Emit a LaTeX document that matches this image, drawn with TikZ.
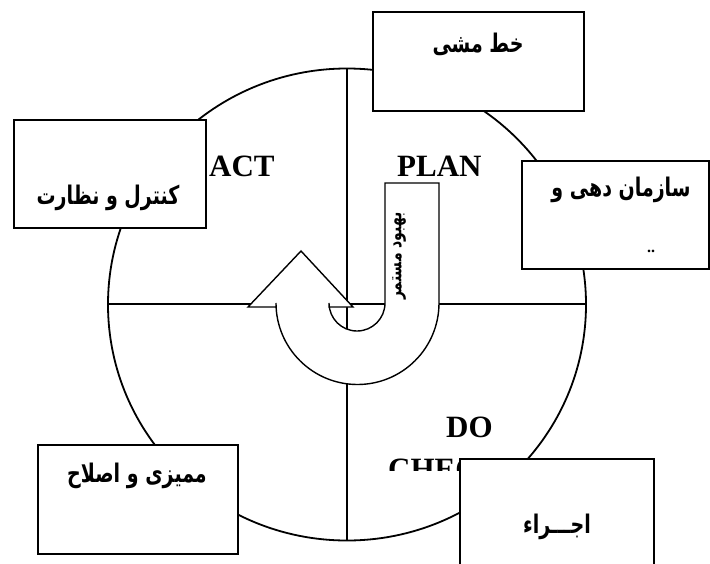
\documentclass[tikz,border=0pt]{standalone}
\usepackage{fontspec}
\setmainfont{Liberation Serif}
\newfontfamily\arabicfont[Script=Arabic]{DejaVu Sans}
\TeXXeTstate=1
\newcommand{\artxt}[1]{\scalebox{1}[1.35]{\beginR #1\endR}}
\begin{document}
\begin{tikzpicture}[x=1pt,y=-1pt,
  box/.style={draw, line width=2.2pt, fill=white, inner sep=0pt},
  lbl/.style={font=\fontsize{31}{36}\selectfont\bfseries, inner sep=0pt},
  ar/.style={font=\arabicfont\bfseries\fontsize{19}{22}\selectfont, inner sep=0pt},
  thin/.style={line width=1.8pt}]
\useasboundingbox (0,0) rectangle (710,563);
% circle and quadrant lines
\draw[thin, fill=white] (347,304.5) ellipse [x radius=239, y radius=236];
\coordinate (vt) at (347,68.5);
\coordinate (vb) at (347,540.5);
\coordinate (hl) at (108,304);
\coordinate (hr) at (586,304);
\draw[thin] (vt) -- (vb);
\draw[thin] (hl) -- (hr);
% phase labels
\node[lbl, anchor=base west] (act) at (209,176) {ACT};
\node[lbl, anchor=base west] (plan) at (397,176) {PLAN};
\node[lbl, anchor=base west] (do) at (446,437) {DO};
\begin{scope}
  \clip (370,440) rectangle (520,470.5);
  \node[lbl, anchor=base west] (check) at (388,479) {CHECK};
\end{scope}
% U arrow
\draw[line width=1.4pt, fill=white] (385,183) -- (439,183) -- (439,303)
  arc[start angle=0, end angle=180, radius=81.5] -- (276,307) -- (248,307)
  -- (301,251) -- (353,307) -- (329,307) -- (329,303)
  arc[start angle=180, end angle=0, radius=28] -- cycle;
\node[rotate=90, inner sep=0pt, font=\arabicfont\bfseries\fontsize{14}{16}\selectfont] (imp) at (399,256) {\artxt{بهبود مستمر}};
% boxes
\node[box, anchor=north west, minimum width=211pt, minimum height=99pt] (b1) at (372,11) {};
\node[ar] (t1) at (478,44) {\artxt{خط مشی}};
\node[box, anchor=north west, minimum width=192pt, minimum height=108pt] (b2) at (13,119) {};
\node[ar] (t2) at (108,198) {\artxt{کنترل و نظارت}};
\node[box, anchor=north west, minimum width=187pt, minimum height=108pt] (b3) at (521,160) {};
\node[ar] (t3) at (621,190) {\artxt{سازمان دهی و}};
\node[inner sep=0pt, font=\bfseries\fontsize{16}{18}\selectfont] (t3b) at (651,251) {..};
\node[box, anchor=north west, minimum width=200pt, minimum height=109pt] (b4) at (37,444) {};
\node[ar] (t4) at (137,476) {\artxt{ممیزی و اصلاح}};
\node[box, anchor=north west, minimum width=194pt, minimum height=120pt] (b5) at (459,458) {};
\node[ar] (t5) at (557,527) {\artxt{اجـــراء}};
\end{tikzpicture}
\end{document}
